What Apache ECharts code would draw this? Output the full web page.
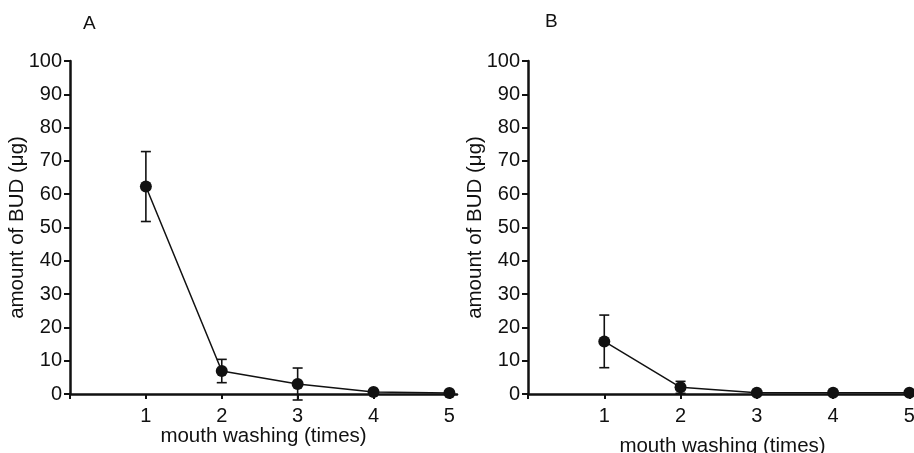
<!DOCTYPE html>
<html>
<head>
<meta charset="utf-8">
<script src="https://cdn.jsdelivr.net/npm/echarts@6/dist/echarts.min.js"></script>
<style>html,body{margin:0;padding:0;background:#fff}#c{width:914px;height:453px}</style>
</head>
<body>
<div id="c"></div>
<script>
const washes = [1, 2, 3, 4, 5];
const meanA = [62.3, 6.9, 3.0, 0.6, 0.3];
const errA = [10.5, 3.5, 4.8, 0, 0];
const meanB = [15.8, 2.0, 0.4, 0.4, 0.4];
const errB = [7.9, 1.8, 0, 0, 0];
const xTicks = [1, 2, 3, 4, 5];
const panelLabels = ['A', 'B'];
const yName = 'amount of BUD (μg)';
const xName = 'mouth washing (times)';

const FONT = 'Liberation Sans, Arial, sans-serif';
const INK = '#111';

function xAxisCfg(gi, gap) {
  return {
    type: 'value', gridIndex: gi, min: 0, max: 5.1,
    name: xName, nameLocation: 'middle', nameGap: gap, nameMoveOverlap: false,
    nameTextStyle: {fontFamily: FONT, fontSize: 20.5, color: INK},
    axisLine: {show: true, onZero: false, lineStyle: {color: INK, width: 2.5}},
    axisTick: {show: true, length: 5, customValues: [0].concat(xTicks), lineStyle: {color: INK, width: 2}},
    axisLabel: {show: true, customValues: xTicks, margin: 12, fontFamily: FONT, fontSize: 20, color: INK},
    splitLine: {show: false}
  };
}
function yAxisCfg(gi) {
  return {
    type: 'value', gridIndex: gi, min: 0, max: 100, interval: 10,
    name: yName, nameLocation: 'middle', nameGap: 42, nameMoveOverlap: false,
    nameTextStyle: {fontFamily: FONT, fontSize: 20.5, color: INK},
    axisLine: {show: true, lineStyle: {color: INK, width: 2.5}},
    axisTick: {show: true, length: 6, lineStyle: {color: INK, width: 2}},
    axisLabel: {margin: 8, fontFamily: FONT, fontSize: 20, color: INK},
    splitLine: {show: false}
  };
}
function pts(mean) { return washes.map((w, i) => [w, mean[i]]); }
function errData(mean, err) { return washes.map((w, i) => [w, mean[i] - err[i], mean[i] + err[i], err[i]]); }
function errSeries(gi, mean, err) {
  return {
    type: 'custom', xAxisIndex: gi, yAxisIndex: gi, clip: false, z: 1,
    data: errData(mean, err),
    renderItem: function (params, api) {
      if (api.value(3) <= 0) return null;
      const x = api.value(0);
      const lo = api.coord([x, api.value(1)]);
      const hi = api.coord([x, api.value(2)]);
      const cap = 5;
      const st = {stroke: INK, lineWidth: 1.6, fill: null};
      return {
        type: 'group', children: [
          {type: 'line', shape: {x1: lo[0], y1: lo[1], x2: hi[0], y2: hi[1]}, style: st},
          {type: 'line', shape: {x1: lo[0] - cap, y1: lo[1], x2: lo[0] + cap, y2: lo[1]}, style: st},
          {type: 'line', shape: {x1: hi[0] - cap, y1: hi[1], x2: hi[0] + cap, y2: hi[1]}, style: st}
        ]
      };
    }
  };
}
function lineSeries(gi, mean) {
  return {
    type: 'line', xAxisIndex: gi, yAxisIndex: gi, clip: false, z: 3,
    data: pts(mean), symbol: 'circle', symbolSize: 12,
    itemStyle: {color: INK}, lineStyle: {color: INK, width: 1.5},
    animation: false
  };
}

const chart = echarts.init(document.getElementById('c'), null, {renderer: 'canvas'});
chart.setOption({
  animation: false,
  backgroundColor: '#fff',
  title: [
    {text: panelLabels[0], left: 83, top: 14, padding: 0, textStyle: {fontFamily: FONT, fontSize: 19, fontWeight: 'normal', color: INK}},
    {text: panelLabels[1], left: 545, top: 12, padding: 0, textStyle: {fontFamily: FONT, fontSize: 19, fontWeight: 'normal', color: INK}}
  ],
  grid: [
    {left: 70, top: 61, width: 387, height: 333, containLabel: false, outerBoundsMode: 'none'},
    {left: 528, top: 61, width: 389, height: 333, containLabel: false, outerBoundsMode: 'none'}
  ],
  xAxis: [xAxisCfg(0, 32), xAxisCfg(1, 42)],
  yAxis: [yAxisCfg(0), yAxisCfg(1)],
  series: [
    errSeries(0, meanA, errA), lineSeries(0, meanA),
    errSeries(1, meanB, errB), lineSeries(1, meanB)
  ]
});
</script>
</body>
</html>
